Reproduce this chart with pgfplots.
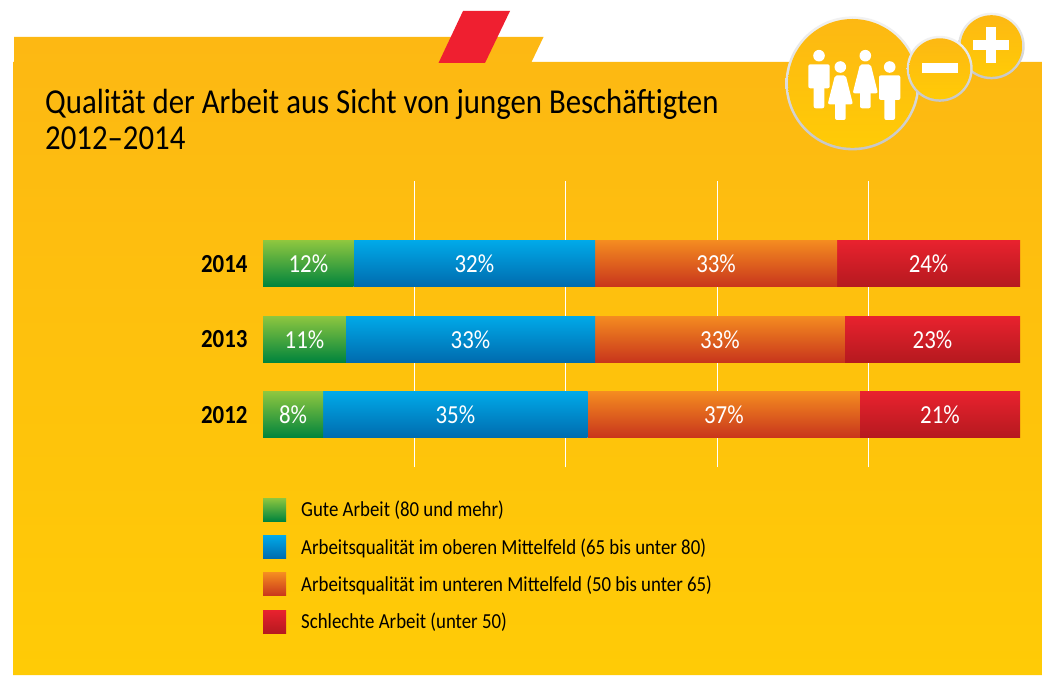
\documentclass[border=0pt]{standalone}
\usepackage{pgfplots}
\usepackage{fontspec}
\setmainfont{Carlito}[FakeStretch=0.88]
\pgfplotsset{compat=1.18}
\definecolor{bgtop}{HTML}{FDB813}
\definecolor{bgbot}{HTML}{FFCB06}
\definecolor{gtop}{HTML}{8DC63F}
\definecolor{gbot}{HTML}{00843D}
\definecolor{btop}{HTML}{00A9E8}
\definecolor{bbot}{HTML}{006BAE}
\definecolor{otop}{HTML}{F48B20}
\definecolor{obot}{HTML}{C8351C}
\definecolor{rtop}{HTML}{E8222E}
\definecolor{rbot}{HTML}{B5191F}
\definecolor{redtab}{HTML}{EF1F30}
\definecolor{ringtop}{HTML}{F2F2F2}
\definecolor{ringbot}{HTML}{C6C6C6}
\pgfplotsset{
  swatch/.style={legend image code/.code={\path[##1] (0pt,-11.5pt) rectangle (23pt,11.5pt);\path (38pt,0pt);}},
  gute/.style={draw=none,top color=gtop,bottom color=gbot,swatch},
  oben/.style={draw=none,top color=btop,bottom color=bbot,swatch},
  unten/.style={draw=none,top color=otop,bottom color=obot,swatch},
  schlecht/.style={draw=none,top color=rtop,bottom color=rbot,swatch},
  bars/.style={
    at={(263pt,207.7pt)}, anchor=south west,
    scale only axis, width=757pt, height=286.6pt,
    xmin=0, xmax=100, ymin=-0.695, ymax=3.1,
    xbar stacked, bar width=45.8pt,
    clip=false,
    point meta=explicit symbolic,
    nodes near coords={\pgfplotspointmeta\%},
    every node near coord/.append style={white,font=\fontsize{26}{26}\selectfont},
  },
}
\begin{document}
\begin{tikzpicture}[x=1pt,y=1pt]
\path[use as bounding box] (0,0) rectangle (1046,675);
% background
\fill[white] (0,0) rectangle (1046,675);
\path[top color=bgtop,bottom color=bgbot]
  (14,638) -- (543.5,638) -- (531.5,613) -- (1042,613) -- (1042,0) -- (13,0) -- (13,613) -- (14,613) -- cycle;
\fill[redtab] (463,664) -- (510,664) -- (485,612) -- (438.5,612) -- cycle;
% icon
\path[top color=ringtop,bottom color=ringbot] (991.4,629) circle (33.3);
\path[top color=bgtop,bottom color=bgbot] (991.4,629) circle (30.8);
\path[top color=ringtop,bottom color=ringbot] (852.5,591.6) circle (67);
\path[top color=bgtop,bottom color=bgbot] (852.5,591.6) circle (64.4);
\path[top color=ringtop,bottom color=ringbot] (939.7,606.2) circle (33);
\path[top color=bgtop,bottom color=bgbot] (939.7,606.2) circle (30.5);
\fill[white] (922,602) rectangle (958,612);
\fill[white] (973,625) rectangle (1009,635);
\fill[white] (986,612) rectangle (996,648);
% people
\begin{scope}[white]
\fill (819,619.3) circle (5.8);
\fill[rounded corners=2] (808.3,610.7) rectangle (829.7,586.7);
\fill[rounded corners=2] (813.7,590) rectangle (824.3,566.7);
\fill (840.3,608) circle (5.8);
\fill[rounded corners=2] (835,599.7) -- (845.7,599.7) -- (853,570.7) -- (827.7,570.7) -- cycle;
\fill[rounded corners=2] (835,575) rectangle (845.7,555);
\fill (865.3,619.3) circle (5.8);
\fill[rounded corners=2] (860,610.7) -- (870.7,610.7) -- (878,581.7) -- (852.7,581.7) -- cycle;
\fill[rounded corners=2] (860,586) rectangle (870.7,566.7);
\fill (889.7,608) circle (5.8);
\fill[rounded corners=2] (879,599.7) rectangle (900.3,575);
\fill[rounded corners=2] (884.3,580) rectangle (895,555);
\end{scope}
% 2012, with the grid, the ticks, the title and the legend
\begin{axis}[bars,
  axis line style={draw=none},
  major tick length=0pt,
  xtick={20,40,60,80}, xticklabels={,,,},
  xmajorgrids, grid style={white,line width=1.2pt},
  ytick={0,1,2}, yticklabels={2012,2013,2014},
  yticklabel style={font=\fontsize{26}{26}\selectfont\bfseries,black},
  tick label style={/pgf/number format/assume math mode=true},
  yticklabel shift=12pt,
  title={Qualität der Arbeit aus Sicht von jungen Beschäftigten\\2012--2014},
  title style={at={(-0.288,1.3)},anchor=north west,align=left,inner sep=0pt,
    font=\fontsize{35}{36}\selectfont,black},
  legend style={at={(0,-0.107)},anchor=north west,draw=none,fill=none,inner sep=0pt,
    row sep=14.4pt,font=\fontsize{21.4}{22}\selectfont,text=black,
    nodes={inner sep=0pt}},
  legend cell align=left,
]
\addplot+[gute] coordinates {(7.93,0) [8]};
\addplot+[oben] coordinates {(34.96,0) [35]};
\addplot+[unten] coordinates {(35.97,0) [37]};
\addplot+[schlecht] coordinates {(21.14,0) [21]};
\legend{Gute Arbeit (80 und mehr),Arbeitsqualität im oberen Mittelfeld (65 bis unter 80),Arbeitsqualität im unteren Mittelfeld (50 bis unter 65),Schlechte Arbeit (unter 50)}
\end{axis}
% 2013
\begin{axis}[bars,hide axis]
\addplot+[gute] coordinates {(10.96,1) [11]};
\addplot+[oben] coordinates {(32.9,1) [33]};
\addplot+[unten] coordinates {(33.02,1) [33]};
\addplot+[schlecht] coordinates {(23.12,1) [23]};
\end{axis}
% 2014
\begin{axis}[bars,hide axis]
\addplot+[gute] coordinates {(11.98,2) [12]};
\addplot+[oben] coordinates {(31.88,2) [32]};
\addplot+[unten] coordinates {(31.97,2) [33]};
\addplot+[schlecht] coordinates {(24.17,2) [24]};
\end{axis}
\end{tikzpicture}
\end{document}
